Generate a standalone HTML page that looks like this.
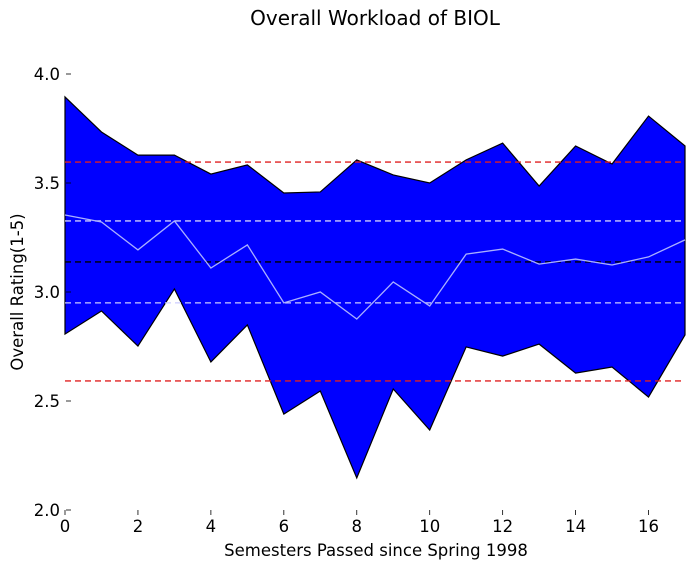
<!DOCTYPE html>
<html><head><meta charset="utf-8"><style>
body{margin:0;background:#fff;font-family:"Liberation Sans","DejaVu Sans",sans-serif}
</style></head><body>
<svg id="c" width="695" height="570" xmlns="http://www.w3.org/2000/svg" font-family="DejaVu Sans, Liberation Sans, sans-serif">
<text x="375" y="25" font-size="20" text-anchor="middle">Overall Workload of BIOL</text>
<text x="376" y="556" font-size="16.5" text-anchor="middle">Semesters Passed since Spring 1998</text>
<text transform="translate(23,292) rotate(-90)" font-size="16.5" text-anchor="middle">Overall Rating(1-5)</text>
<g id="plot"></g>
</svg>
<script>
const semesters=[0,1,2,3,4,5,6,7,8,9,10,11,12,13,14,15,16,17];
const upper=[3.895,3.734,3.628,3.628,3.541,3.583,3.454,3.459,3.606,3.537,3.5,3.606,3.683,3.486,3.67,3.587,3.807,3.67];
const lower=[2.807,2.913,2.752,3.014,2.679,2.849,2.44,2.546,2.147,2.555,2.367,2.748,2.706,2.761,2.628,2.656,2.518,2.803];
const meanLine=[3.353,3.321,3.193,3.326,3.11,3.216,2.95,3.0,2.876,3.046,2.936,3.174,3.197,3.128,3.151,3.124,3.161,3.239];
const refLines=[3.596,3.326,3.138,2.95,2.592];
const refColors=["#e02020","#ccccff","#000","#ccccff","#e02020"];
const xTicks=[0,2,4,6,8,10,12,14,16];
const yTicks=[2.0,2.5,3.0,3.5,4.0];
const X=v=>65+v*(620/17), Y=v=>510-(v-2)*218;
const NS="http://www.w3.org/2000/svg", g=document.getElementById('plot');
function mk(t,a){const e=document.createElementNS(NS,t);for(const k in a)e.setAttribute(k,a[k]);g.appendChild(e);return e;}
let d=semesters.map((s,i)=>(i?'L':'M')+X(s)+','+Y(upper[i])).join('')+semesters.slice().reverse().map((s,j)=>{const i=semesters.length-1-j;return 'L'+X(s)+','+Y(lower[i]);}).join('')+'Z';
let band=mk('path',{d:d,fill:'#0000ff',stroke:'#000','stroke-width':1.2});


refLines.forEach((v,i)=>{const l=mk('line',{x1:65,x2:685,y1:Y(v),y2:Y(v),stroke:refColors[i],'stroke-width':1.3,'stroke-dasharray':'6,4'});

});
let ml=mk('polyline',{points:semesters.map((s,i)=>X(s)+','+Y(meanLine[i])).join(' '),fill:'none',stroke:'#aab0ff','stroke-width':1.3});


yTicks.forEach(v=>{const l=mk('line',{x1:66,x2:71,y1:Y(v),y2:Y(v),stroke:'#000','stroke-width':0.8});


const t=mk('text',{x:60,y:Y(v)+6,'font-size':16.5,'text-anchor':'end'});t.textContent=v.toFixed(1);

});
xTicks.forEach(v=>{const l=mk('line',{x1:X(v),x2:X(v),y1:510,y2:515,stroke:'#000','stroke-width':0.8});


const t=mk('text',{x:X(v),y:532,'font-size':16.5,'text-anchor':'middle'});t.textContent=v;

});
</script>
</body></html>
